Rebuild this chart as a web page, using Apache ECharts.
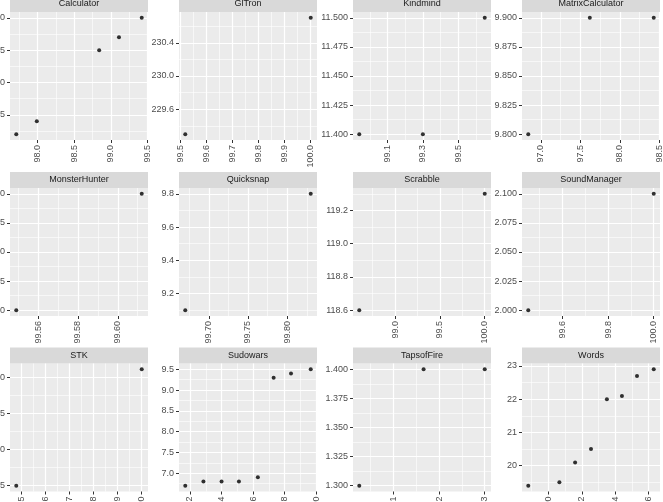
<!DOCTYPE html>
<html>
<head>
<meta charset="utf-8">
<script src="https://cdn.jsdelivr.net/npm/echarts@6/dist/echarts.min.js"></script>
<style>
  html, body { margin: 0; padding: 0; background: #fff; }
  #main { width: 663px; height: 502px; }
</style>
</head>
<body>
<div id="main"></div>
<script>
// facet names, row by row
const panelNames = ['Calculator', 'GlTron', 'Kindmind', 'MatrixCalculator',
  'MonsterHunter', 'Quicksnap', 'Scrabble', 'SoundManager',
  'STK', 'Sudowars', 'TapsofFire', 'Words'];

const calculatorX = [97.71, 97.99, 98.84, 99.11, 99.42];
const calculatorY = [2, 4, 15, 17, 20];
const calculatorXTicks = [98.0, 98.5, 99.0, 99.5];
const calculatorYTicks = [5, 10, 15, 20];

const glTronX = [99.52, 100.0];
const glTronY = [229.3, 230.7];
const glTronXTicks = [99.5, 99.6, 99.7, 99.8, 99.9, 100.0];
const glTronYTicks = [229.6, 230.0, 230.4];

const kindmindX = [98.94, 99.30, 99.65];
const kindmindY = [11.4, 11.4, 11.5];
const kindmindXTicks = [99.1, 99.3, 99.5];
const kindmindYTicks = [11.4, 11.425, 11.45, 11.475, 11.5];

const matrixX = [96.84, 97.62, 98.43];
const matrixY = [9.8, 9.9, 9.9];
const matrixXTicks = [97.0, 97.5, 98.0, 98.5];
const matrixYTicks = [9.8, 9.825, 9.85, 9.875, 9.9];

const monsterX = [99.549, 99.612];
const monsterY = [0, 2];
const monsterXTicks = [99.56, 99.58, 99.60];
const monsterYTicks = [0, 0.5, 1, 1.5, 2];

const quicksnapX = [99.67, 99.83];
const quicksnapY = [9.1, 9.8];
const quicksnapXTicks = [99.70, 99.75, 99.80];
const quicksnapYTicks = [9.2, 9.4, 9.6, 9.8];

const scrabbleX = [98.6, 100.0];
const scrabbleY = [118.6, 119.3];
const scrabbleXTicks = [99.0, 99.5, 100.0];
const scrabbleYTicks = [118.6, 118.8, 119.0, 119.2];

const soundX = [99.45, 100.0];
const soundY = [2.0, 2.1];
const soundXTicks = [99.6, 99.8, 100.0];
const soundYTicks = [2.0, 2.025, 2.05, 2.075, 2.1];

const stkX = [99.48, 100.0];
const stkY = [5, 21.1];
const stkXTicks = [99.5, 99.6, 99.7, 99.8, 99.9, 100.0];
const stkYTicks = [5, 10, 15, 20];

const sudowarsX = [99.17, 99.285, 99.40, 99.51, 99.63, 99.73, 99.84, 99.965];
const sudowarsY = [6.7, 6.8, 6.8, 6.8, 6.9, 9.3, 9.4, 9.5];
const sudowarsXTicks = [99.2, 99.4, 99.6, 99.8, 100.0];
const sudowarsYTicks = [7.0, 7.5, 8.0, 8.5, 9.0, 9.5];

const tapsX = [99.025, 99.166, 99.30];
const tapsY = [1.3, 1.4, 1.4];
const tapsXTicks = [99.1, 99.2, 99.3];
const tapsYTicks = [1.3, 1.325, 1.35, 1.375, 1.4];

const wordsX = [98.88, 99.066, 99.16, 99.255, 99.35, 99.44, 99.53, 99.63];
const wordsY = [19.4, 19.5, 20.1, 20.5, 22.0, 22.1, 22.7, 22.9];
const wordsXTicks = [99.0, 99.2, 99.4, 99.6];
const wordsYTicks = [20, 21, 22, 23];

const panelData = [
  [calculatorX, calculatorY, calculatorXTicks, calculatorYTicks],
  [glTronX, glTronY, glTronXTicks, glTronYTicks],
  [kindmindX, kindmindY, kindmindXTicks, kindmindYTicks],
  [matrixX, matrixY, matrixXTicks, matrixYTicks],
  [monsterX, monsterY, monsterXTicks, monsterYTicks],
  [quicksnapX, quicksnapY, quicksnapXTicks, quicksnapYTicks],
  [scrabbleX, scrabbleY, scrabbleXTicks, scrabbleYTicks],
  [soundX, soundY, soundXTicks, soundYTicks],
  [stkX, stkY, stkXTicks, stkYTicks],
  [sudowarsX, sudowarsY, sudowarsXTicks, sudowarsYTicks],
  [tapsX, tapsY, tapsXTicks, tapsYTicks],
  [wordsX, wordsY, wordsXTicks, wordsYTicks],
];

// layout (the picture is cropped on the left/bottom, so some labels fall off canvas)
const colLefts = [10, 179, 353, 522];
const rowTops = [12, 188, 363.5];
const panelW = 138;
const panelH = 128;
const stripH = 16;
const FONT = '"Liberation Sans", Arial, sans-serif';

// ggplot-like 5% expansion
const expand = (arr) => {
  const lo = Math.min(...arr), hi = Math.max(...arr), r = hi - lo;
  return [lo - r * 0.05, hi + r * 0.05];
};

const decimalsOf = (ticks) => {
  for (let d = 0; d < 6; d++) {
    if (ticks.every(t => Math.abs(+t.toFixed(d) - t) < 1e-9)) return d;
  }
  return 6;
};

const minorOf = (ticks, lo, hi) => {
  const step = ticks[1] - ticks[0];
  const out = [];
  for (let v = ticks[0] - step / 2; v <= hi + 1e-9; v += step) {
    if (v >= lo - 1e-9 && !ticks.some(t => Math.abs(t - v) < 1e-9)) out.push(+v.toFixed(6));
  }
  return out;
};

const makeAxes = (dim, gi, ticks, range) => {
  const d = decimalsOf(ticks);
  const base = {
    type: 'value',
    gridIndex: gi,
    min: range[0],
    max: range[1],
    axisLine: { show: false, onZero: false },
  };
  const major = {
    ...base,
    z: 2,
    axisTick: { show: true, length: 3, customValues: ticks, lineStyle: { color: '#333333', width: 1 } },
    axisLabel: {
      show: true,
      customValues: ticks,
      formatter: (v) => v.toFixed(d),
      color: '#4D4D4D',
      fontSize: 9,
      fontFamily: FONT,
      margin: 5,
      rotate: dim === 'x' ? 90 : 0,
      hideOverlap: false,
    },
    splitLine: { show: true, lineStyle: { color: '#FFFFFF', width: 1.2 } },
  };
  const minor = {
    ...base,
    z: 1,
    axisTick: { show: false, customValues: minorOf(ticks, range[0], range[1]) },
    axisLabel: { show: false },
    splitLine: { show: true, lineStyle: { color: '#FFFFFF', width: 0.6 } },
  };
  return [major, minor];
};

const grid = [];
const xAxis = [];
const yAxis = [];
const series = [];
const graphic = [];

panelNames.forEach((name, i) => {
  const [xs, ys, xt, yt] = panelData[i];
  const left = colLefts[i % 4];
  const top = rowTops[Math.floor(i / 4)];
  grid.push({
    left, top, width: panelW, height: panelH,
    containLabel: false,
    outerBoundsMode: 'none',
    show: true, backgroundColor: '#EBEBEB', borderWidth: 0,
  });
  xAxis.push(...makeAxes('x', i, xt, expand(xs)));
  yAxis.push(...makeAxes('y', i, yt, expand(ys)));
  series.push({
    type: 'scatter',
    xAxisIndex: i * 2,
    yAxisIndex: i * 2,
    symbolSize: 4,
    itemStyle: { color: '#000000' },
    silent: true,
    z: 5,
    data: xs.map((x, k) => [x, ys[k]]),
  });
  graphic.push({
    type: 'rect',
    silent: true,
    shape: { x: left, y: top - stripH, width: panelW, height: stripH },
    style: { fill: '#D9D9D9' },
    textContent: { style: { text: name, fill: '#1A1A1A', font: '9px ' + FONT } },
    textConfig: { position: 'inside' },
  });
});

const chart = echarts.init(document.getElementById('main'));
chart.setOption({
  animation: false,
  backgroundColor: '#FFFFFF',
  grid,
  xAxis,
  yAxis,
  series,
  graphic,
});
</script>
</body>
</html>
